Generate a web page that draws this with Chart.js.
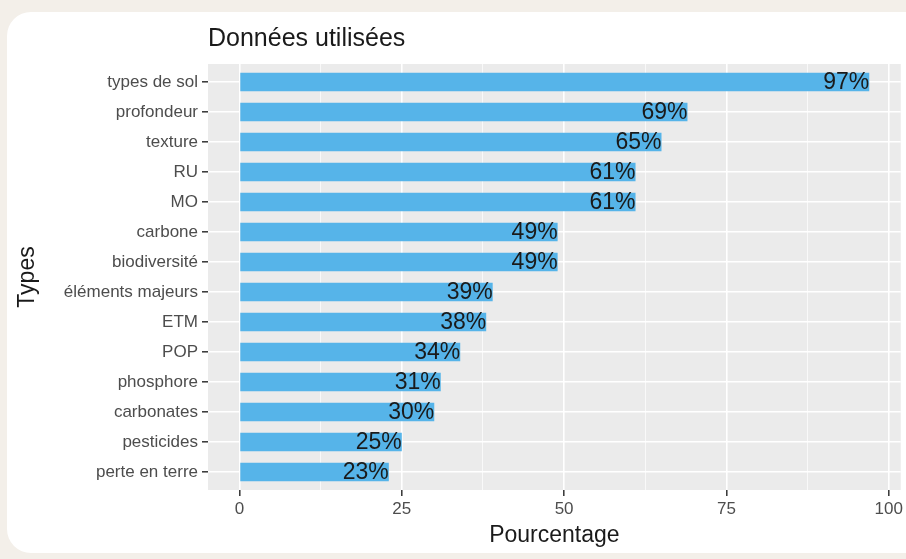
<!DOCTYPE html>
<html lang="fr">
<head>
  <meta charset="UTF-8" />
  <title>Données utilisées</title>
  <script src="https://cdn.jsdelivr.net/npm/chart.js"></script>
  <style>
    html, body { margin: 0; padding: 0; }
    body {
      background: #f3efe9;
      width: 906px;
      height: 559px;
      position: relative;
      overflow: hidden;
      font-family: 'Liberation Sans', Arial, sans-serif;
    }
    .carte {
      position: absolute;
      left: 7px; top: 12px;
      width: 930px; height: 541px;
      background: #fff;
      border-radius: 24px;
    }
    #graphique {
      position: absolute;
      left: 0; top: 0;
    }
  </style>
</head>
<body>
<div class="carte"></div>
<canvas id="graphique" width="906" height="559"></canvas>

<script>
  const types = ['types de sol', 'profondeur', 'texture', 'RU', 'MO', 'carbone', 'biodiversité',
    'éléments majeurs', 'ETM', 'POP', 'phosphore', 'carbonates', 'pesticides', 'perte en terre'];
  const pourcentages = [97, 69, 65, 61, 61, 49, 49, 39, 38, 34, 31, 30, 25, 23];
  const ticksX = [0, 12.5, 25, 37.5, 50, 62.5, 75, 87.5, 100];

  const police = "'Liberation Sans', Arial, sans-serif";
  const estMajeur = v => v % 25 === 0;

  // fond gris du panneau (style ggplot)
  const fondPanneau = {
    id: 'fondPanneau',
    beforeDraw(chart) {
      const { ctx, chartArea: a } = chart;
      ctx.save();
      ctx.fillStyle = '#ebebeb';
      ctx.fillRect(a.left, a.top, a.right - a.left, a.bottom - a.top);
      ctx.fillStyle = '#1a1a1a';
      ctx.font = '25px ' + police;
      ctx.textAlign = 'left';
      ctx.textBaseline = 'alphabetic';
      ctx.fillText('Données utilisées', a.left, 46);
      ctx.restore();
    }
  };

  const etiquettes = {
    id: 'etiquettes',
    afterDatasetsDraw(chart) {
      const { ctx } = chart;
      const meta = chart.getDatasetMeta(0);
      ctx.save();
      ctx.fillStyle = '#1a1a1a';
      ctx.font = '23px ' + police;
      ctx.textAlign = 'right';
      ctx.textBaseline = 'middle';
      meta.data.forEach((barre, i) => {
        ctx.fillText(pourcentages[i] + '%', barre.x, barre.y + 1);
      });
      ctx.restore();
    }
  };

  new Chart(document.getElementById('graphique'), {
    type: 'bar',
    data: {
      datasets: [{
        data: pourcentages.map((v, i) => ({ x: v, y: i })),
        backgroundColor: '#56b4e9',
        borderWidth: 0,
        barPercentage: 0.62,
        categoryPercentage: 1
      }]
    },
    options: {
      indexAxis: 'y',
      responsive: false,
      animation: false,
      layout: { padding: { left: 0, top: 64, right: 5, bottom: 0 } },
      plugins: {
        legend: { display: false },
        tooltip: { enabled: false }
      },
      scales: {
        x: {
          type: 'linear',
          min: -4.85,
          max: 101.85,
          afterBuildTicks: s => { s.ticks = ticksX.map(v => ({ value: v })); },
          afterFit: s => { s.height = 69; },
          border: { display: false },
          grid: {
            color: '#ffffff',
            lineWidth: c => estMajeur(c.tick.value) ? 1.6 : 0.7,
            tickColor: c => estMajeur(c.tick.value) ? '#333333' : 'rgba(0,0,0,0)',
            tickLength: 6,
            tickWidth: 1.5
          },
          ticks: {
            autoSkip: false,
            maxRotation: 0,
            padding: 3,
            color: '#4d4d4d',
            font: { family: police, size: 17 },
            callback: v => estMajeur(v) ? String(v) : ''
          },
          title: {
            display: true,
            text: 'Pourcentage',
            color: '#1a1a1a',
            font: { family: police, size: 23 },
            padding: { top: 0, bottom: 10 }
          }
        },
        y: {
          type: 'linear',
          reverse: true,
          offset: false,
          min: -0.6,
          max: types.length - 0.4,
          afterBuildTicks: s => { s.ticks = types.map((t, i) => ({ value: i })); },
          afterFit: s => { s.width = 208; },
          border: { display: false },
          grid: {
            offset: false,
            color: '#ffffff',
            lineWidth: 1.6,
            tickColor: '#333333',
            tickLength: 6,
            tickWidth: 1.5
          },
          ticks: {
            autoSkip: false,
            padding: 4,
            color: '#4d4d4d',
            font: { family: police, size: 17 },
            callback: v => types[v] ?? ''
          },
          title: {
            display: true,
            text: 'Types',
            color: '#1a1a1a',
            font: { family: police, size: 23 },
            padding: { top: 14, bottom: 0 }
          }
        }
      }
    },
    plugins: [fondPanneau, etiquettes]
  });
</script>
</body>
</html>
